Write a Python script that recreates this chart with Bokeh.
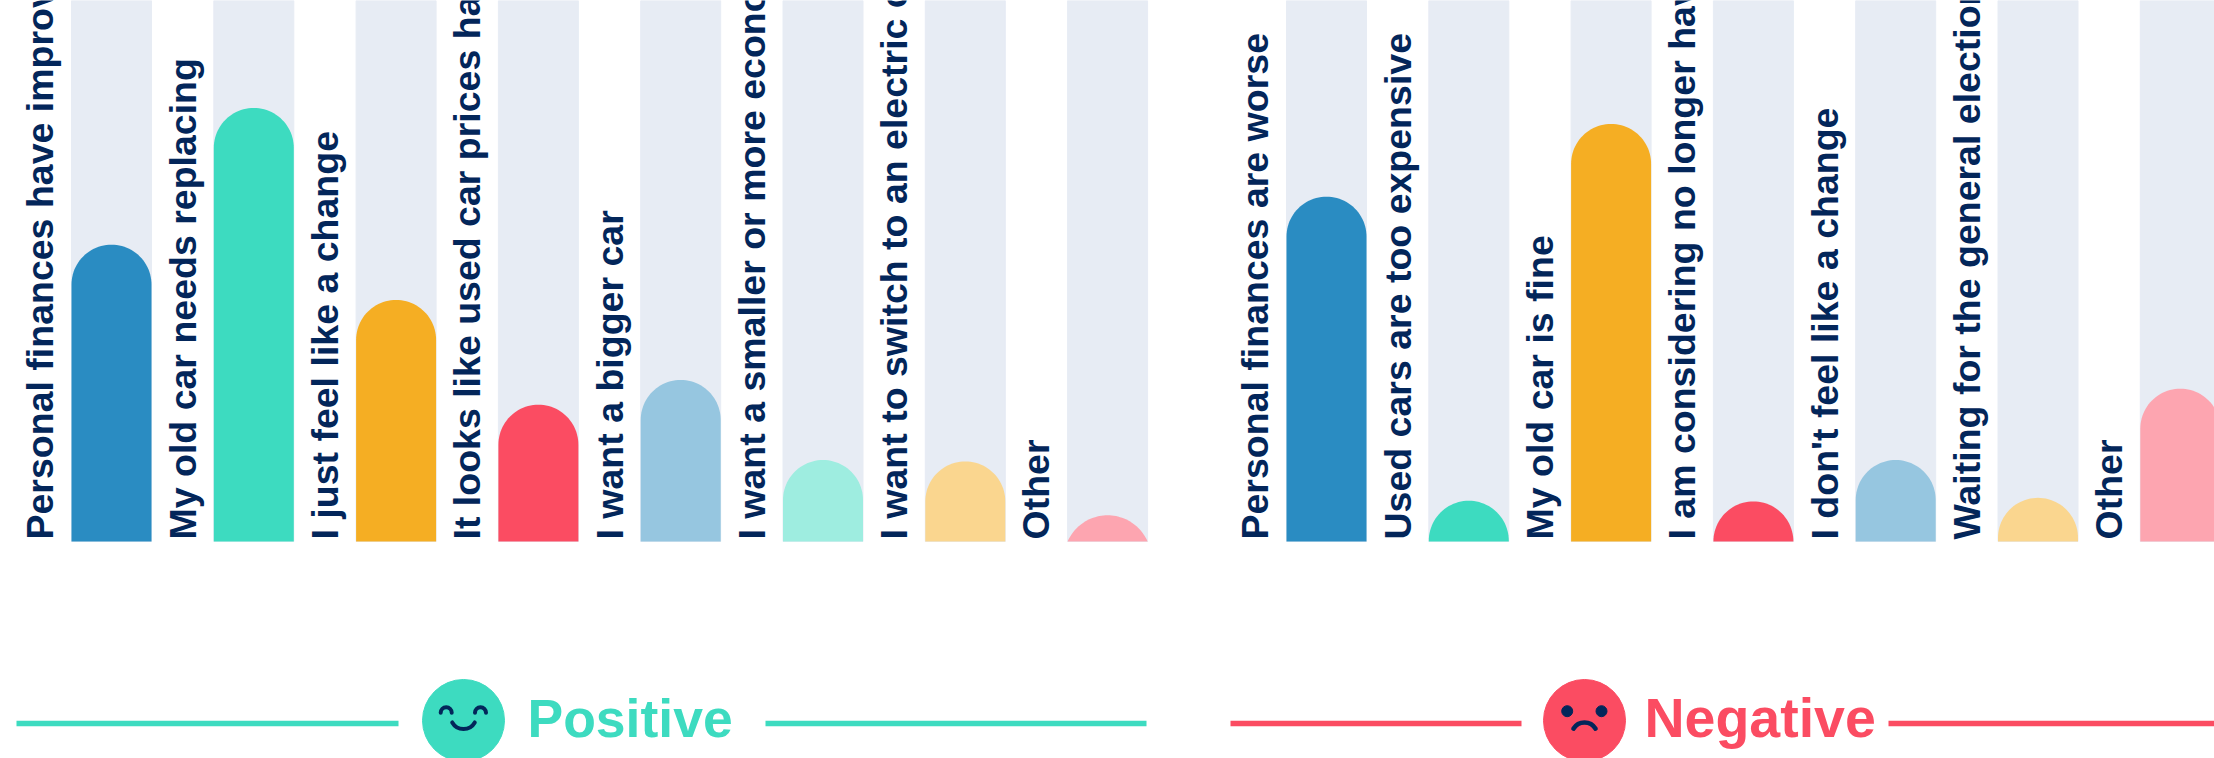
import math
from bokeh.core.properties import value
from bokeh.embed import file_html
from bokeh.models import Range1d
from bokeh.plotting import figure
from bokeh.resources import INLINE

positive_labels = ["Personal finances have improved", "My old car needs replacing", "I just feel like a change",
                   "It looks like used car prices have dropped", "I want a bigger car",
                   "I want a smaller or more economical car", "I want to switch to an electric car", "Other"]
positive_values = [20.4, 29.8, 16.6, 9.4, 11.1, 5.6, 5.5, 1.8]
negative_labels = ["Personal finances are worse", "Used cars are too expensive", "My old car is fine",
                   "I am considering no longer having a car", "I don't feel like a change",
                   "Waiting for the general election", "Other"]
negative_values = [23.7, 2.8, 28.7, 2.75, 5.6, 3.0, 10.5]
positive_colors = ["#2A8CC2", "#3DDBC0", "#F5AE23", "#FB4C62", "#96C6E0", "#9EEDE0", "#FAD68F", "#FDA5B0"]
negative_colors = ["#2A8CC2", "#3DDBC0", "#F5AE23", "#FB4C62", "#96C6E0", "#FAD68F", "#FDA5B0"]
track_color = "#E7ECF4"
navy = "#03265A"
green = "#3DDBC0"
red = "#FB4C62"

W, H = 2214, 758
BASE = 541
PX = 14.55
PITCH = 142.3
BW = 80
SHIFT = 0.39  # fraction of the font size the svg baseline sits below the anchor
TITLE_SHIFT = 0.36
LABEL_SIZE = 37.5


def yv(px):
    return (BASE - px) / PX


p = figure(width=W, height=H, output_backend="svg", toolbar_location=None,
           x_range=Range1d(0, W), y_range=Range1d(yv(H), yv(0)),
           x_axis_type=None, y_axis_type=None, min_border=0, outline_line_color=None)
p.grid.visible = False


def dome(left, v):
    h = v * PX
    r = BW / 2
    cx = left + r
    if h >= r:
        pts = [(cx - r * math.cos(t), h - r + r * math.sin(t)) for t in [math.pi * i / 48 for i in range(49)]]
        xs = [left] + [q[0] for q in pts] + [left + BW]
        ys = [0] + [q[1] for q in pts] + [0]
    else:
        R = (r * r + h * h) / (2 * h)
        a = math.asin(r / R)
        ts = [-a + 2 * a * i / 48 for i in range(49)]
        xs = [cx + R * math.sin(t) for t in ts]
        ys = [h - R + R * math.cos(t) for t in ts]
    return xs, [y / PX for y in ys]


def group(x0, labels, values, colors):
    lefts = [x0 + i * PITCH for i in range(len(values))]
    p.vbar(x=[l + BW / 2 for l in lefts], width=BW, bottom=0, top=yv(0), color=track_color)
    shapes = [dome(l, v) for l, v in zip(lefts, values)]
    p.patches([s[0] for s in shapes], [s[1] for s in shapes], fill_color=colors, line_color=None)
    p.text([l - 16.5 - LABEL_SIZE * SHIFT for l in lefts], [yv(539)] * len(values), text=labels, angle=math.pi / 2,
           text_font=value("Liberation Sans"), text_font_style="bold", text_font_size=f"{LABEL_SIZE}px",
           text_color=navy, text_align="left", text_baseline="alphabetic")


group(71, positive_labels, positive_values, positive_colors)
group(1286, negative_labels, negative_values, negative_colors)

# rules
for a, b, c in [(16, 398, green), (765, 1146, green), (1230, 1521, red), (1888, 2214, red)]:
    p.line([a, b], [yv(723), yv(723)], line_color=c, line_width=5.5)

# faces
p.scatter([463], [yv(720)], size=82, color=green, marker="circle")
p.scatter([1584], [yv(720)], size=82, color=red, marker="circle")
for cx, cy in [(445.7, 712.3), (480, 712.3)]:
    p.arc([cx], [yv(cy)], radius=5.5, radius_units="screen", start_angle=0, end_angle=math.pi,
          line_color=navy, line_width=4, line_cap="round")
p.arc([463], [yv(715.5)], radius=13, radius_units="screen", start_angle=math.pi + 0.52, end_angle=2 * math.pi - 0.52,
      line_color=navy, line_width=4, line_cap="round")
p.scatter([1566.7, 1601], [yv(710.7)] * 2, size=11, color=navy, marker="circle")
p.arc([1584], [yv(735)], radius=13, radius_units="screen", start_angle=0.55, end_angle=math.pi - 0.55,
      line_color=navy, line_width=4.5, line_cap="round")

for x, t, c, s in [(527, "Positive", green, 53.5), (1644, "Negative", red, 55.5)]:
    p.text([x], [yv(737 - s * TITLE_SHIFT)], text=[t], text_font=value("Liberation Sans"), text_font_style="bold",
           text_font_size=f"{s}px", text_color=c, text_align="left", text_baseline="alphabetic")

open("out.html", "w").write(file_html(p, INLINE))
